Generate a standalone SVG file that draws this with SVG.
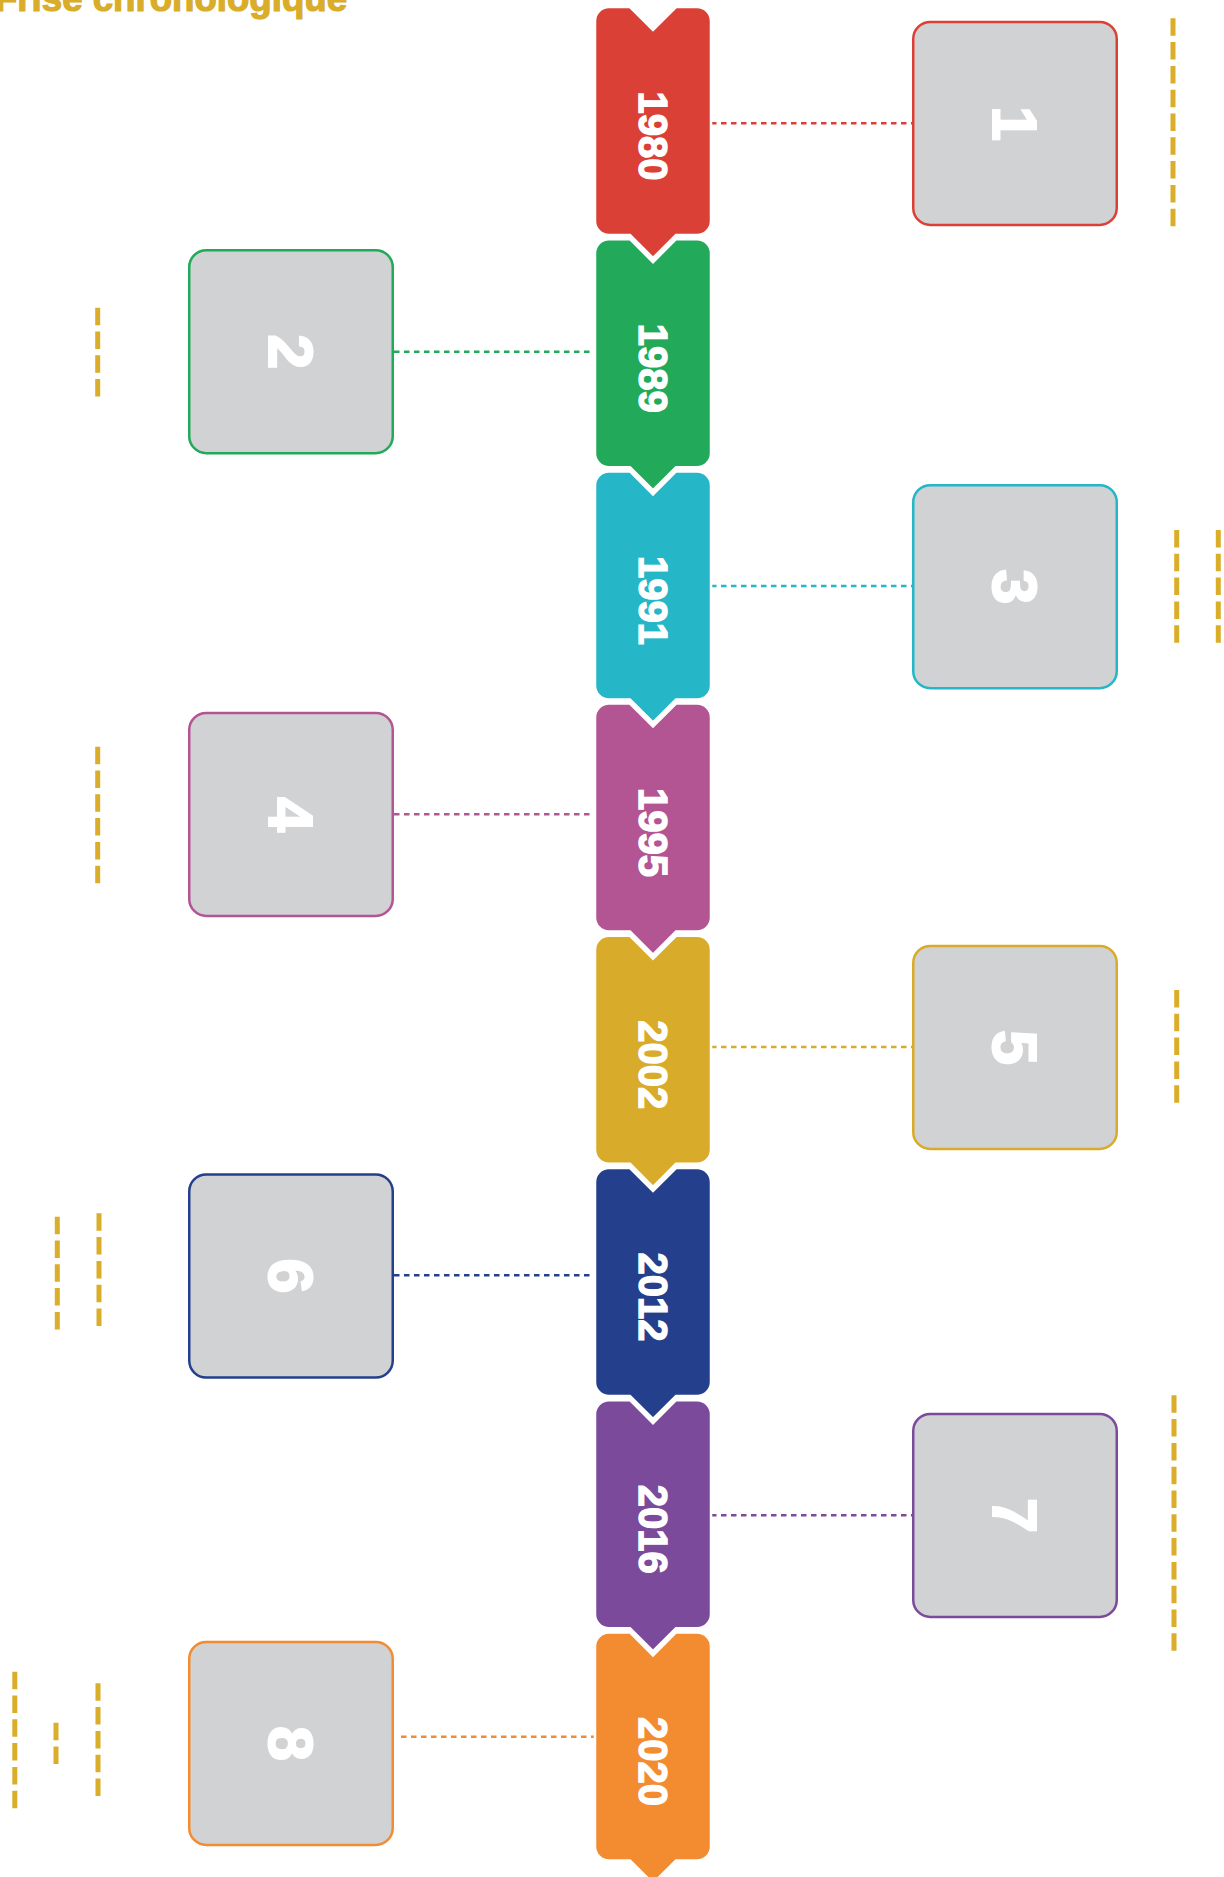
<svg xmlns="http://www.w3.org/2000/svg" xmlns:xlink="http://www.w3.org/1999/xlink" width="1224" height="1877" viewBox="0 0 1224 1877">
<style>
.title{font-family:"Liberation Sans","DejaVu Sans",sans-serif;font-weight:bold;font-size:36px;fill:#D9AD2A;stroke:#D9AD2A;stroke-width:1.2}
.year{font-family:"Liberation Sans","DejaVu Sans",sans-serif;font-weight:bold;font-size:40px;fill:#fff;stroke:#fff;stroke-width:1.4;text-anchor:middle}
.num{font-family:"Liberation Sans","DejaVu Sans",sans-serif;font-weight:bold;font-size:63px;fill:#fff;stroke:#fff;stroke-width:2;text-anchor:middle}
.tab{stroke:#fff;stroke-width:2.5}
.box{fill:#D1D2D4;stroke-width:2.5}
.conn{fill:none;stroke-width:2.6;stroke-dasharray:5.5 4.5}
.deco{fill:none;stroke:#DAAE2A;stroke-width:5;stroke-dasharray:17.5 6.3}
</style>
<defs>
<path id="tabShape" d="M609 0 L630 0 L653 23 L676 0 L697 0 A14 14 0 0 1 711 14 L711 214 A14 14 0 0 1 697 228 L676 228 L653 251 L630 228 L609 228 A14 14 0 0 1 595 214 L595 14 A14 14 0 0 1 609 0 Z"/>
</defs>
<rect width="1224" height="1877" fill="#fff"/>
<text class="title" x="-5" y="10.5" textLength="352" lengthAdjust="spacingAndGlyphs">Frise chronologique</text>

<g id="connectors">
<line class="conn" stroke="#DB4036" x1="711" y1="123.3" x2="912" y2="123.3"/>
<line class="conn" stroke="#23A95A" x1="394" y1="351.7" x2="595" y2="351.7"/>
<line class="conn" stroke="#25B6C8" x1="711" y1="586" x2="912" y2="586"/>
<line class="conn" stroke="#B35593" x1="394" y1="814.3" x2="595" y2="814.3"/>
<line class="conn" stroke="#D9AB2A" x1="711" y1="1047" x2="912" y2="1047"/>
<line class="conn" stroke="#243F8C" x1="394" y1="1275.3" x2="595" y2="1275.3"/>
<line class="conn" stroke="#7B4A9B" x1="711" y1="1515.3" x2="912" y2="1515.3"/>
<line class="conn" stroke="#F38C31" x1="401" y1="1736.7" x2="594" y2="1736.7"/>
</g>

<g id="tab-1980"><use href="#tabShape" xlink:href="#tabShape" class="tab" fill="#DB4036" transform="translate(0,7)"/><text class="year" transform="translate(653,136) rotate(90)" y="14.4">1980</text></g>
<g id="tab-1989"><use href="#tabShape" xlink:href="#tabShape" class="tab" fill="#23A95A" transform="translate(0,239.2)"/><text class="year" transform="translate(653,368.2) rotate(90)" y="14.4">1989</text></g>
<g id="tab-1991"><use href="#tabShape" xlink:href="#tabShape" class="tab" fill="#25B6C8" transform="translate(0,471.4)"/><text class="year" transform="translate(653,600.4) rotate(90)" y="14.4">1991</text></g>
<g id="tab-1995"><use href="#tabShape" xlink:href="#tabShape" class="tab" fill="#B35593" transform="translate(0,703.6)"/><text class="year" transform="translate(653,832.6) rotate(90)" y="14.4">1995</text></g>
<g id="tab-2002"><use href="#tabShape" xlink:href="#tabShape" class="tab" fill="#D9AB2A" transform="translate(0,935.8)"/><text class="year" transform="translate(653,1064.8) rotate(90)" y="14.4">2002</text></g>
<g id="tab-2012"><use href="#tabShape" xlink:href="#tabShape" class="tab" fill="#243F8C" transform="translate(0,1168)"/><text class="year" transform="translate(653,1297) rotate(90)" y="14.4">2012</text></g>
<g id="tab-2016"><use href="#tabShape" xlink:href="#tabShape" class="tab" fill="#7B4A9B" transform="translate(0,1400.2)"/><text class="year" transform="translate(653,1529.2) rotate(90)" y="14.4">2016</text></g>
<g id="tab-2020"><use href="#tabShape" xlink:href="#tabShape" class="tab" fill="#F38C31" transform="translate(0,1632.4)"/><text class="year" transform="translate(653,1761.4) rotate(90)" y="14.4">2020</text></g>

<g id="box-1"><rect class="box" stroke="#DB4036" x="913.25" y="21.9" width="203.5" height="203" rx="17"/><text class="num" transform="translate(1015,123.5) rotate(90)" y="22.5">1</text></g>
<g id="box-2"><rect class="box" stroke="#23A95A" x="189.25" y="250.2" width="203.5" height="203" rx="17"/><text class="num" transform="translate(291,351.8) rotate(90)" y="22.5">2</text></g>
<g id="box-3"><rect class="box" stroke="#25B6C8" x="913.25" y="485.2" width="203.5" height="203" rx="17"/><text class="num" transform="translate(1015,586.8) rotate(90)" y="22.5">3</text></g>
<g id="box-4"><rect class="box" stroke="#B35593" x="189.25" y="712.9" width="203.5" height="203" rx="17"/><text class="num" transform="translate(291,814.5) rotate(90)" y="22.5">4</text></g>
<g id="box-5"><rect class="box" stroke="#D9AB2A" x="913.25" y="945.9" width="203.5" height="203" rx="17"/><text class="num" transform="translate(1015,1047.5) rotate(90)" y="22.5">5</text></g>
<g id="box-6"><rect class="box" stroke="#243F8C" x="189.25" y="1174.5" width="203.5" height="203" rx="17"/><text class="num" transform="translate(291,1276) rotate(90)" y="22.5">6</text></g>
<g id="box-7"><rect class="box" stroke="#7B4A9B" x="913.25" y="1413.9" width="203.5" height="203" rx="17"/><text class="num" transform="translate(1015,1515.5) rotate(90)" y="22.5">7</text></g>
<g id="box-8"><rect class="box" stroke="#F38C31" x="189.25" y="1641.9" width="203.5" height="203" rx="17"/><text class="num" transform="translate(291,1743.5) rotate(90)" y="22.5">8</text></g>

<g id="dash-marks">
<line class="deco" x1="1173" y1="18.3" x2="1173" y2="226.2"/>
<line class="deco" x1="97.7" y1="307.7" x2="97.7" y2="396.6"/>
<line class="deco" x1="1176.7" y1="530" x2="1176.7" y2="642.7"/>
<line class="deco" x1="1218.3" y1="530" x2="1218.3" y2="642.7"/>
<line class="deco" x1="97.7" y1="746.7" x2="97.7" y2="883.2"/>
<line class="deco" x1="1176.7" y1="990" x2="1176.7" y2="1102.7"/>
<line class="deco" x1="57.3" y1="1216.7" x2="57.3" y2="1329.4"/>
<line class="deco" x1="99" y1="1213.3" x2="99" y2="1326"/>
<line class="deco" x1="1174" y1="1395.3" x2="1174" y2="1650.8"/>
<line class="deco" x1="14.8" y1="1671.7" x2="14.8" y2="1808.2"/>
<line class="deco" x1="56" y1="1722.7" x2="56" y2="1764"/>
<line class="deco" x1="98" y1="1683.3" x2="98" y2="1796"/>
</g>
</svg>
